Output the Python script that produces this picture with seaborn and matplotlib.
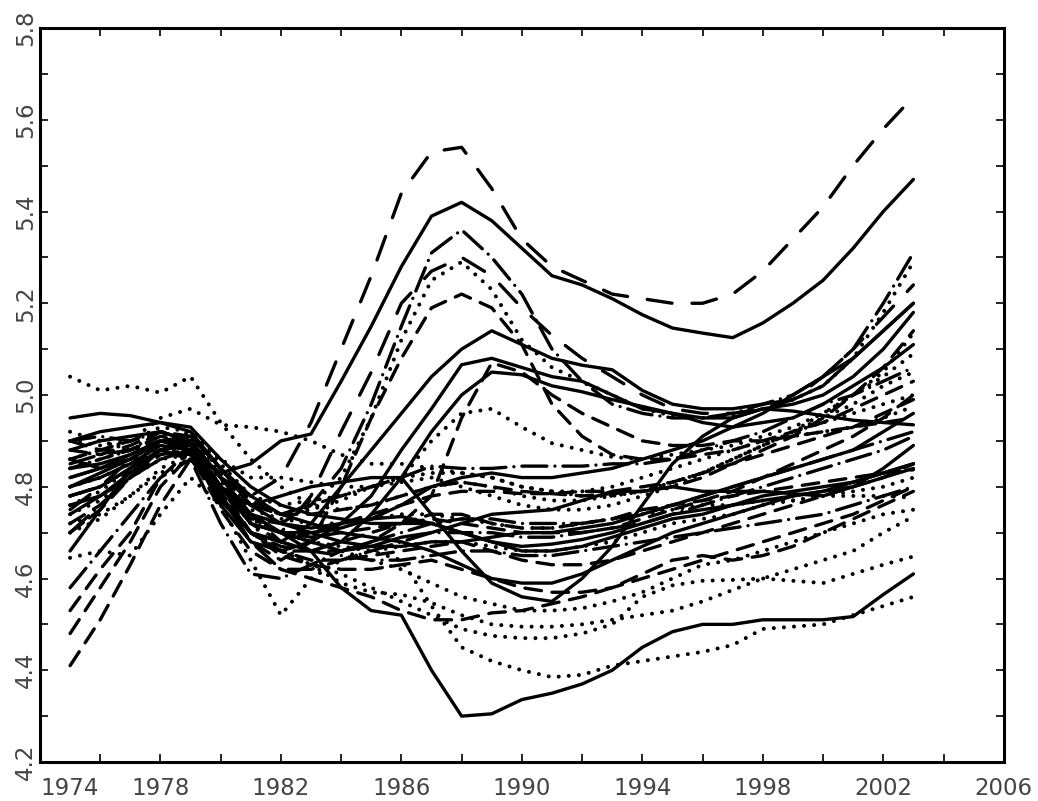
import matplotlib
matplotlib.use("Agg")
import matplotlib.pyplot as plt
import seaborn as sns

# anos 1975..2003
anos = list(range(1975, 2004))

s01 = [4.75,4.80,4.86,4.90,4.88,4.82,4.78,4.82,4.94,5.10,5.26,5.44,5.53,5.54,5.45,5.34,5.28,5.25,5.22,5.21,5.20,5.20,5.22,5.27,5.34,5.41,5.50,5.58,5.65]
s02 = [4.80,4.83,4.86,4.90,4.88,4.83,4.85,4.90,4.915,5.03,5.15,5.28,5.39,5.42,5.38,5.32,5.26,5.24,5.21,5.175,5.146,5.135,5.125,5.157,5.20,5.25,5.32,5.40,5.47]
s03 = [4.85,4.87,4.88,4.92,4.90,4.80,4.73,4.72,4.76,4.84,4.98,5.15,5.31,5.36,5.30,5.22,5.10,5.03,4.98,4.96,4.95,4.95,4.96,4.98,5.00,5.04,5.10,5.20,5.31]
s04 = [4.78,4.80,4.84,4.88,4.90,4.84,4.76,4.74,4.76,4.82,4.95,5.12,5.25,5.29,5.23,5.12,5.06,5.03,5.00,4.97,4.955,4.95,4.955,4.97,4.99,5.02,5.08,5.18,5.29]
s05 = [4.82,4.84,4.86,4.88,4.86,4.80,4.72,4.70,4.78,4.92,5.05,5.20,5.27,5.30,5.26,5.19,5.13,5.08,5.04,5.00,4.97,4.96,4.96,4.97,4.99,5.04,5.10,5.17,5.24]
s06 = [4.86,4.88,4.90,4.92,4.89,4.78,4.68,4.64,4.68,4.80,4.95,5.08,5.19,5.22,5.19,5.11,4.98,4.91,4.87,4.86,4.86,4.87,4.88,4.90,4.92,4.94,4.97,5.00,5.03]
s07 = [4.84,4.85,4.87,4.90,4.89,4.78,4.70,4.68,4.72,4.80,4.88,4.96,5.04,5.10,5.14,5.11,5.08,5.065,5.055,5.01,4.98,4.97,4.97,4.98,4.99,5.02,5.08,5.14,5.20]
s08 = [4.80,4.82,4.85,4.89,4.88,4.76,4.68,4.66,4.68,4.72,4.78,4.88,4.97,5.066,5.08,5.06,5.04,5.03,5.00,4.97,4.96,4.95,4.95,4.97,4.98,5.00,5.04,5.10,5.18]
s09 = [4.76,4.78,4.82,4.86,4.88,4.77,4.70,4.68,4.66,4.68,4.74,4.82,4.92,5.00,5.05,5.044,5.02,5.007,4.99,4.975,4.96,4.94,4.93,4.94,4.95,4.98,5.02,5.06,5.11]
s10 = [4.72,4.76,4.82,4.87,4.88,4.78,4.70,4.67,4.66,4.66,4.68,4.72,4.78,4.95,5.07,5.05,5.00,4.96,4.93,4.90,4.89,4.89,4.90,4.90,4.91,4.92,4.93,4.94,4.95]
s11 = [4.90,4.91,4.90,4.92,4.90,4.82,4.76,4.74,4.76,4.78,4.80,4.82,4.845,4.84,4.84,4.845,4.845,4.845,4.85,4.85,4.86,4.88,4.90,4.92,4.95,4.98,5.00,5.03,5.06]
s12 = [4.74,4.78,4.83,4.88,4.89,4.80,4.76,4.78,4.80,4.81,4.82,4.82,4.74,4.66,4.59,4.56,4.55,4.60,4.67,4.76,4.85,4.91,4.95,4.97,4.965,4.955,4.945,4.94,4.935]
s13 = [4.70,4.75,4.82,4.88,4.87,4.75,4.66,4.62,4.60,4.58,4.56,4.53,4.51,4.51,4.525,4.53,4.545,4.56,4.58,4.61,4.64,4.65,4.64,4.65,4.67,4.70,4.73,4.76,4.79]
s14 = [4.72,4.74,4.78,4.84,4.87,4.82,4.72,4.66,4.63,4.61,4.58,4.55,4.52,4.49,4.475,4.47,4.47,4.48,4.50,4.56,4.585,4.595,4.597,4.60,4.595,4.59,4.61,4.63,4.648]
s15 = [4.80,4.82,4.85,4.88,4.88,4.80,4.72,4.70,4.68,4.67,4.66,4.64,4.54,4.45,4.42,4.40,4.385,4.39,4.41,4.42,4.43,4.44,4.455,4.49,4.495,4.50,4.52,4.54,4.56]
s16 = [4.78,4.80,4.84,4.88,4.90,4.82,4.74,4.70,4.66,4.58,4.53,4.52,4.40,4.30,4.305,4.336,4.35,4.37,4.40,4.45,4.484,4.50,4.50,4.51,4.51,4.51,4.517,4.565,4.61]
s17 = [4.74,4.77,4.82,4.86,4.87,4.78,4.70,4.66,4.63,4.59,4.57,4.565,4.547,4.52,4.50,4.495,4.495,4.50,4.51,4.52,4.53,4.55,4.575,4.60,4.62,4.64,4.66,4.70,4.735]
s18 = [4.76,4.79,4.84,4.87,4.88,4.80,4.73,4.70,4.68,4.66,4.64,4.62,4.59,4.56,4.545,4.53,4.53,4.535,4.55,4.57,4.60,4.63,4.64,4.66,4.68,4.70,4.72,4.74,4.75]
s19 = [4.41,4.51,4.63,4.76,4.86,4.78,4.70,4.66,4.66,4.68,4.70,4.72,4.74,4.74,4.72,4.71,4.71,4.72,4.73,4.75,4.76,4.77,4.78,4.79,4.80,4.81,4.82,4.83,4.837]
s20 = [4.48,4.58,4.68,4.80,4.87,4.80,4.72,4.68,4.70,4.72,4.74,4.76,4.78,4.79,4.79,4.785,4.785,4.79,4.79,4.80,4.81,4.83,4.85,4.87,4.89,4.91,4.93,4.96,4.99]
s21 = [4.53,4.62,4.70,4.82,4.88,4.79,4.70,4.66,4.64,4.64,4.65,4.66,4.67,4.68,4.66,4.64,4.63,4.63,4.64,4.66,4.68,4.70,4.72,4.74,4.76,4.78,4.80,4.82,4.85]
s22 = [4.58,4.66,4.74,4.82,4.86,4.78,4.68,4.62,4.62,4.64,4.66,4.68,4.70,4.70,4.70,4.69,4.69,4.70,4.71,4.72,4.74,4.76,4.78,4.80,4.82,4.84,4.86,4.88,4.91]
s23 = [4.645,4.66,4.65,4.74,4.82,4.76,4.64,4.52,4.60,4.64,4.66,4.67,4.68,4.68,4.67,4.66,4.66,4.67,4.68,4.70,4.72,4.73,4.74,4.76,4.77,4.78,4.79,4.80,4.82]
s24 = [5.04,5.01,5.02,5.005,5.04,4.94,4.86,4.80,4.76,4.75,4.76,4.78,4.80,4.81,4.80,4.78,4.77,4.77,4.78,4.79,4.81,4.83,4.86,4.89,4.92,4.96,5.00,5.05,5.135]
s25 = [4.86,4.88,4.90,4.95,4.97,4.935,4.93,4.92,4.90,4.87,4.85,4.85,4.84,4.83,4.82,4.80,4.79,4.78,4.78,4.79,4.81,4.83,4.86,4.89,4.92,4.95,4.98,5.02,5.05]
s26 = [4.95,4.96,4.955,4.94,4.93,4.86,4.80,4.76,4.74,4.73,4.72,4.72,4.72,4.70,4.68,4.66,4.66,4.67,4.69,4.71,4.73,4.74,4.76,4.77,4.78,4.79,4.80,4.82,4.84]
s27 = [4.66,4.75,4.84,4.90,4.90,4.80,4.72,4.70,4.70,4.71,4.73,4.76,4.80,4.82,4.83,4.82,4.82,4.83,4.84,4.86,4.88,4.90,4.93,4.96,5.00,5.04,5.08,5.14,5.20]
s28 = [4.70,4.76,4.82,4.88,4.86,4.72,4.61,4.60,4.63,4.66,4.68,4.70,4.72,4.73,4.73,4.72,4.72,4.72,4.73,4.74,4.76,4.78,4.80,4.82,4.84,4.86,4.88,4.90,4.92]
s29 = [4.90,4.89,4.90,4.93,4.92,4.85,4.78,4.76,4.77,4.78,4.80,4.82,4.90,4.96,4.97,4.93,4.895,4.88,4.865,4.86,4.87,4.88,4.89,4.91,4.93,4.96,5.00,5.04,5.09]
s30 = [4.84,4.86,4.88,4.91,4.90,4.83,4.76,4.74,4.75,4.77,4.80,4.82,4.83,4.83,4.82,4.80,4.79,4.79,4.80,4.82,4.84,4.86,4.88,4.90,4.91,4.92,4.93,4.95,4.975]
s31 = [4.88,4.87,4.89,4.92,4.91,4.84,4.77,4.74,4.74,4.75,4.76,4.78,4.80,4.81,4.80,4.79,4.785,4.78,4.785,4.79,4.80,4.82,4.85,4.88,4.91,4.95,5.00,5.06,5.14]
s32 = [4.90,4.92,4.93,4.94,4.92,4.84,4.76,4.72,4.70,4.68,4.67,4.67,4.68,4.68,4.69,4.70,4.70,4.71,4.72,4.74,4.76,4.78,4.80,4.82,4.84,4.86,4.88,4.92,4.96]
s33 = [4.82,4.84,4.87,4.90,4.90,4.82,4.74,4.70,4.68,4.66,4.67,4.69,4.70,4.72,4.74,4.745,4.75,4.77,4.79,4.79,4.80,4.79,4.79,4.79,4.785,4.78,4.80,4.84,4.89]
s34 = [4.88,4.90,4.91,4.92,4.90,4.80,4.74,4.72,4.71,4.72,4.73,4.735,4.72,4.70,4.68,4.67,4.675,4.685,4.70,4.72,4.74,4.75,4.76,4.78,4.79,4.80,4.81,4.83,4.85]
s35 = [4.70,4.73,4.78,4.83,4.86,4.81,4.75,4.73,4.72,4.72,4.73,4.74,4.74,4.73,4.72,4.71,4.71,4.72,4.73,4.74,4.75,4.76,4.76,4.77,4.77,4.78,4.78,4.78,4.776]
s36 = [4.84,4.86,4.88,4.90,4.89,4.80,4.70,4.65,4.63,4.62,4.62,4.63,4.64,4.62,4.60,4.58,4.57,4.57,4.58,4.60,4.62,4.64,4.66,4.68,4.70,4.72,4.74,4.77,4.80]
s37 = [4.92,4.90,4.88,4.90,4.92,4.86,4.82,4.82,4.81,4.80,4.80,4.81,4.82,4.80,4.78,4.76,4.75,4.75,4.76,4.78,4.80,4.83,4.86,4.89,4.92,4.94,4.96,4.98,5.00]
s38 = [4.86,4.84,4.86,4.90,4.91,4.84,4.78,4.74,4.72,4.70,4.69,4.68,4.66,4.63,4.60,4.59,4.59,4.61,4.64,4.67,4.70,4.72,4.74,4.76,4.78,4.79,4.81,4.83,4.85]
s39 = [4.78,4.80,4.84,4.88,4.87,4.80,4.74,4.68,4.66,4.65,4.64,4.64,4.65,4.66,4.66,4.65,4.65,4.66,4.67,4.68,4.69,4.70,4.71,4.72,4.73,4.74,4.76,4.78,4.80]
s40 = [4.90,4.88,4.88,4.91,4.90,4.82,4.74,4.70,4.69,4.70,4.71,4.72,4.73,4.72,4.71,4.70,4.70,4.70,4.71,4.73,4.75,4.77,4.79,4.82,4.85,4.88,4.91,4.95,5.00]

series = [s01, s02, s03, s04, s05, s06, s07, s08, s09, s10,
          s11, s12, s13, s14, s15, s16, s17, s18, s19, s20,
          s21, s22, s23, s24, s25, s26, s27, s28, s29, s30,
          s31, s32, s33, s34, s35, s36, s37, s38, s39, s40]

tipos = ['longo', 'solido', 'tracoponto', 'ponto', 'longo', 'tracejado', 'solido', 'solido', 'solido', 'tracejado',
         'tracoponto', 'solido', 'tracejado', 'ponto', 'ponto', 'solido', 'ponto', 'ponto', 'tracejado', 'tracejado',
         'tracejado', 'tracoponto', 'ponto', 'ponto', 'ponto', 'solido', 'solido', 'tracoponto', 'ponto', 'ponto',
         'tracejado', 'solido', 'solido', 'solido', 'ponto', 'tracejado', 'ponto', 'solido', 'tracoponto', 'tracejado']

xticks = list(range(1974, 2007, 2))
xrotulos = [str(a) if (a - 1974) % 4 == 0 else "" for a in xticks]
yticks = [4.2 + 0.1 * i for i in range(17)]
yrotulos = [f"{v:.1f}" if i % 2 == 0 else "" for i, v in enumerate(yticks)]

# padroes em unidades de largura de linha
padroes = {
    'solido': '-',
    'longo': (0, (7.5, 6.0)),
    'tracejado': (0, (5.0, 3.2)),
    'ponto': (0, (0.01, 2.5)),
    'tracoponto': (0, (7.5, 2.4, 0.01, 2.4)),
}

sns.set_style("ticks")
plt.rcParams['font.family'] = ['DejaVu Sans']

fig = plt.figure(figsize=(10.38, 8.01), dpi=100)
ax = fig.add_axes([0.0385, 0.0487, 0.9285, 0.9163])

for s, t in zip(series, tipos):
    lw = 2.9 if t == 'ponto' else 2.4
    sns.lineplot(x=anos, y=s, ax=ax, color='black', lw=lw,
                 linestyle=padroes[t], legend=False)

for ln in ax.lines:
    ln.set_dash_capstyle('round')
    ln.set_solid_capstyle('round')
    ln.set_solid_joinstyle('round')

ax.set_xlim(1974, 2006)
ax.set_ylim(4.2, 5.8)
ax.set_xticks(xticks, xrotulos)
ax.set_yticks(yticks, yrotulos)

ax.tick_params(axis='both', direction='in', length=6, width=1.2, top=True, right=True,
               labelsize=16.5, labelcolor='#444444', color='black')
ax.tick_params(axis='y', labelrotation=90, pad=2)
ax.tick_params(axis='x', pad=11)
for lab in ax.get_yticklabels():
    lab.set_va('center')
ax.get_xticklabels()[0].set_ha('left')

for sp in ax.spines.values():
    sp.set_linewidth(2.2)
    sp.set_color('black')

ax.set_xlabel("")
ax.set_ylabel("")

fig.savefig("out.png", dpi=100)
